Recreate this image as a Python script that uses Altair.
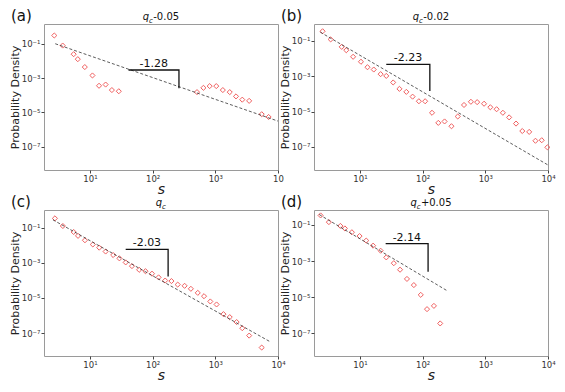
import altair as alt
import numpy as np
import pandas as pd

# ---- values (log10 exponents) ----
# panel (a)  q_c-0.05
a_log_s = [0.431, 0.565, 0.74, 0.806, 0.918, 1.04, 1.145, 1.25, 1.35, 1.46,
           2.708, 2.81, 2.91, 3.015, 3.12, 3.23, 3.33, 3.43, 3.54, 3.74, 3.85]
a_log_p = [-0.52, -1.106, -1.61, -1.9, -2.36, -2.85, -3.45, -3.38, -3.70, -3.77,
           -3.82, -3.57, -3.47, -3.47, -3.70, -3.82, -4.07, -4.26, -4.33, -5.11, -5.27]
a_fit_log_s = [0.446, 4.0]
a_fit_log_p = [-1.0, -5.51]
a_tri_log_s = [1.615, 2.42, 2.42]
a_tri_log_p = [-2.53, -2.53, -3.59]
a_slope = "-1.28"
a_ydom = [-8.36, 0.15]

# panel (b)  q_c-0.02
b_log_s = [0.404, 0.533, 0.709, 0.782, 0.891, 1.016, 1.12, 1.22, 1.33, 1.42, 1.53, 1.63,
           1.74, 1.84, 1.94, 2.04, 2.15, 2.25, 2.35, 2.46, 2.56, 2.66, 2.77, 2.87, 2.98,
           3.08, 3.18, 3.28, 3.38, 3.49, 3.59, 3.70, 3.80, 3.90, 3.99]
b_log_p = [-0.47, -0.93, -1.35, -1.54, -1.91, -2.19, -2.50, -2.63, -2.89, -2.99, -3.36, -3.72,
           -3.89, -4.16, -4.42, -4.42, -5.07, -5.64, -5.56, -5.83, -5.28, -4.63, -4.45, -4.47, -4.56,
           -4.76, -4.87, -5.07, -5.33, -5.68, -6.10, -6.15, -6.65, -6.62, -7.02]
b_fit_log_s = [0.367, 4.006]
b_fit_log_p = [-0.52, -8.03]
b_tri_log_s = [1.42, 2.115, 2.115]
b_tri_log_p = [-2.34, -2.34, -3.84]
b_slope = "-2.23"
b_ydom = [-8.30, -0.06]

# panel (c)  q_c
c_log_s = [0.441, 0.568, 0.74, 0.81, 0.92, 1.046, 1.148, 1.25, 1.37, 1.47, 1.57, 1.67,
           1.785, 1.886, 1.99, 2.095, 2.20, 2.30, 2.40, 2.51, 2.61, 2.72, 2.82, 2.92, 3.02,
           3.13, 3.23, 3.34, 3.43, 3.54, 3.74]
c_log_p = [-0.475, -0.91, -1.25, -1.47, -1.72, -1.96, -2.14, -2.36, -2.56, -2.75, -2.98, -3.19,
           -3.40, -3.48, -3.62, -3.83, -4.01, -4.04, -4.24, -4.31, -4.48, -4.71, -4.90, -5.20, -5.37,
           -5.92, -6.09, -6.37, -6.72, -7.14, -7.82]
c_fit_log_s = [0.41, 3.86]
c_fit_log_p = [-0.56, -7.46]
c_tri_log_s = [1.57, 2.247, 2.247]
c_tri_log_p = [-2.24, -2.24, -3.78]
c_slope = "-2.03"
c_ydom = [-8.30, 0.0]

# panel (d)  q_c+0.05
d_log_s = [0.372, 0.504, 0.688, 0.76, 0.871, 0.994, 1.10, 1.21, 1.33, 1.42, 1.54, 1.64,
           1.75, 1.86, 1.97, 2.07, 2.18, 2.28]
d_log_p = [-0.48, -0.85, -1.06, -1.20, -1.41, -1.62, -1.87, -2.15, -2.43, -2.80, -3.12, -3.48,
           -3.99, -4.33, -4.87, -5.66, -5.48, -6.45]
d_fit_log_s = [0.35, 2.39]
d_fit_log_p = [-0.43, -4.64]
d_tri_log_s = [1.41, 2.087, 2.087]
d_tri_log_p = [-2.04, -2.04, -3.59]
d_slope = "-2.14"
d_ydom = [-8.25, -0.18]

x_dom_log = [0.267, 4.0]
panel_labels = ["(a)", "(b)", "(c)", "(d)"]
title_main = ["q", "q", "q", "q"]
title_sub = ["c", "c", "c", "c"]
title_rest = ["-0.05", "-0.02", "", "+0.05"]
x_tick_values = [10, 100, 1000, 10000]
x_tick_labels = ["10¹", "10²", "10³", "10⁴"]
x_tick_labels_a = ["10¹", "10²", "10³", "10"]
y_tick_values = [1e-1, 1e-3, 1e-5, 1e-7]
y_tick_labels = ["10⁻¹", "10⁻³", "10⁻⁵", "10⁻⁷"]
x_title = "s"
y_title = "Probability Density"

W, H = 234, 146
MARKER = "#f06060"

CW = {"0": .636, "1": .636, "2": .636, "3": .636, "4": .636, "5": .636, "6": .636,
      "7": .636, "8": .636, "9": .636, "-": .361, "+": .838, ".": .318}


def ladder(values, labels):
    pairs = sorted(zip(values, labels))
    expr = f"'{pairs[-1][1]}'"
    for i in range(len(pairs) - 2, -1, -1):
        thr = float(np.sqrt(pairs[i][0] * pairs[i + 1][0]))
        expr = f"datum.value < {thr} ? '{pairs[i][1]}' : ({expr})"
    return expr


def txt(t, x, y, size, style="normal", align="left", baseline="alphabetic", color="#111"):
    return alt.Chart(pd.DataFrame({"t": [t]})).mark_text(
        fontSize=size, fontStyle=style, align=align, baseline=baseline, color=color
    ).encode(text="t:N", x=alt.value(x), y=alt.value(y))


def panel(log_s, log_p, fit_s, fit_p, tri_s, tri_p, slope, ydom, k, xlabels):
    xs = alt.X("s:Q",
               scale=alt.Scale(type="log", domain=[10 ** x_dom_log[0], 10 ** x_dom_log[1]], nice=False),
               axis=alt.Axis(values=x_tick_values, labelExpr=ladder(x_tick_values, xlabels),
                             title=x_title, titleFontStyle="italic", titleFontSize=14,
                             titlePadding=0, titleFontWeight="normal"))
    ys = alt.Y("p:Q",
               scale=alt.Scale(type="log", domain=[10 ** ydom[0], 10 ** ydom[1]], nice=False),
               axis=alt.Axis(values=y_tick_values, labelExpr=ladder(y_tick_values, y_tick_labels),
                             title=y_title, titleFontSize=11, titlePadding=1,
                             titleFontWeight="normal"))
    pts_df = pd.DataFrame({"s": 10 ** np.array(log_s), "p": 10 ** np.array(log_p)})
    fit_df = pd.DataFrame({"s": 10 ** np.array(fit_s), "p": 10 ** np.array(fit_p)})
    tri_df = pd.DataFrame({"s": 10 ** np.array(tri_s), "p": 10 ** np.array(tri_p), "i": [0, 1, 2]})
    lbl_df = pd.DataFrame({"s": [10 ** ((tri_s[0] + tri_s[1]) / 2)], "p": [10 ** tri_p[0]], "t": [slope]})

    pts = alt.Chart(pts_df).mark_point(shape="diamond", filled=False, color=MARKER,
                                       size=26, strokeWidth=1, opacity=1).encode(x=xs, y=ys)
    fit = alt.Chart(fit_df).mark_line(color="#333", strokeDash=[3, 2], strokeWidth=0.8).encode(x=xs, y=ys)
    tri = alt.Chart(tri_df).mark_line(color="#111", strokeWidth=1.3).encode(x=xs, y=ys, order="i:Q")
    lbl = alt.Chart(lbl_df).mark_text(fontSize=11, baseline="bottom", dy=-1, color="#111").encode(
        x=xs, y=ys, text="t:N")

    rest = title_rest[k]
    w_rest = sum(CW[ch] for ch in rest) * 10
    total = 6.4 + 4.0 + w_rest
    x0 = W / 2 - total / 2
    t1 = txt(title_main[k], x0, -4, 10, style="italic")
    t2 = txt(title_sub[k], x0 + 6.2, -1.5, 7, style="italic")
    layers = [pts, fit, tri, lbl, t1, t2]
    if rest:
        layers.append(txt(rest, x0 + 10.4, -4, 10))
    layers.append(txt(panel_labels[k], -33, -3, 15))
    return alt.layer(*layers).properties(width=W, height=H)


pa = panel(a_log_s, a_log_p, a_fit_log_s, a_fit_log_p, a_tri_log_s, a_tri_log_p, a_slope, a_ydom, 0, x_tick_labels_a)
pb = panel(b_log_s, b_log_p, b_fit_log_s, b_fit_log_p, b_tri_log_s, b_tri_log_p, b_slope, b_ydom, 1, x_tick_labels)
pc = panel(c_log_s, c_log_p, c_fit_log_s, c_fit_log_p, c_tri_log_s, c_tri_log_p, c_slope, c_ydom, 2, x_tick_labels)
pd_ = panel(d_log_s, d_log_p, d_fit_log_s, d_fit_log_p, d_tri_log_s, d_tri_log_p, d_slope, d_ydom, 3, x_tick_labels)

chart = alt.concat(pa, pb, pc, pd_, columns=2,
                   spacing=alt.RowColnumber(row=40, column=36), bounds="flush").properties(
    padding=0, background="white"
).configure(font="DejaVu Sans").configure_view(
    stroke="#9a9a9a", strokeWidth=1
).configure_axis(
    grid=False, domain=False, ticks=True, tickSize=3, tickColor="#444",
    labelFontSize=8.5, labelColor="#333", labelPadding=1, titleColor="#222",
    labelOverlap=False, labelFlush=False
)

chart.save("out.html", embed_options={"renderer": "svg", "actions": False})
